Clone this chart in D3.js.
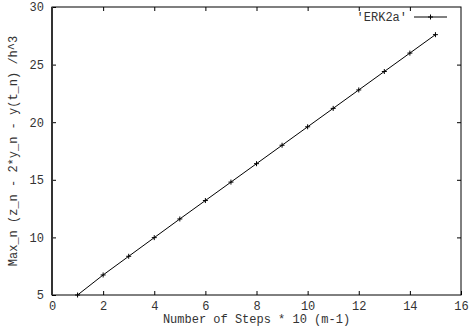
<!DOCTYPE html>
<html>
<head>
<meta charset="utf-8">
<script src="https://cdn.jsdelivr.net/npm/d3@7"></script>
<style>
  body { margin: 0; background: #fff; }
  text { font-family: "Liberation Mono", "DejaVu Sans Mono", monospace; }
</style>
</head>
<body>
<div id="chart"></div>
<script>
// Datos
const steps = [1, 2, 3, 4, 5, 6, 7, 8, 9, 10, 11, 12, 13, 14, 15];
const erk2a = [5.0, 6.74, 8.36, 9.98, 11.6, 13.2, 14.8, 16.4, 18.0, 19.6, 21.2, 22.8, 24.4, 26.0, 27.6];
const xTicks = [0, 2, 4, 6, 8, 10, 12, 14, 16];
const yTicks = [5, 10, 15, 20, 25, 30];
const seriesName = "'ERK2a'";
const xLabel = "Number of Steps * 10 (m-1)";
const yLabel = "Max_n (z_n - 2*y_n - y(t_n) /h^3";

const width = 469, height = 334;
const margin = { top: 7, right: 8, bottom: 39, left: 52 };
const fontSize = 12;
const textColor = '#333';

const svg = d3.select('#chart')
  .append('svg')
  .attr('width', width)
  .attr('height', height);

const x = d3.scaleLinear().domain([0, 16]).range([margin.left, width - margin.right]);
const y = d3.scaleLinear().domain([5, 30]).range([height - margin.bottom, margin.top]);

const tickLen = 4;

// Ejes con marcas hacia dentro (estilo gnuplot)
svg.append('g')
  .attr('transform', `translate(0,${y(5)})`)
  .call(d3.axisBottom(x).tickValues(xTicks).tickSizeInner(-tickLen).tickSizeOuter(0).tickPadding(6.5))
  .call(g => g.select('.domain').remove());

svg.append('g')
  .attr('transform', `translate(0,${y(30)})`)
  .call(d3.axisTop(x).tickValues(xTicks.slice(1, -1)).tickSizeInner(-tickLen).tickSizeOuter(0).tickFormat(''))
  .call(g => g.select('.domain').remove());

svg.append('g')
  .attr('transform', `translate(${x(0)},0)`)
  .call(d3.axisLeft(y).tickValues(yTicks).tickSizeInner(-tickLen).tickSizeOuter(0).tickPadding(8))
  .call(g => g.select('.domain').remove());

svg.append('g')
  .attr('transform', `translate(${x(16)},0)`)
  .call(d3.axisRight(y).tickValues(yTicks.slice(1, -1)).tickSizeInner(-tickLen).tickSizeOuter(0).tickFormat(''))
  .call(g => g.select('.domain').remove());

svg.selectAll('.tick text')
  .attr('font-size', fontSize)
  .attr('fill', textColor);
svg.selectAll('.tick line').attr('stroke', '#000');

// Marco
svg.append('rect')
  .attr('x', x(0))
  .attr('y', y(30))
  .attr('width', x(16) - x(0))
  .attr('height', y(5) - y(30))
  .attr('fill', 'none')
  .attr('stroke', '#000')
  .attr('stroke-width', 1);

svg.append('line')
  .attr('x1', x(0)).attr('x2', x(0))
  .attr('y1', y(30)).attr('y2', y(5))
  .attr('stroke', '#333')
  .attr('stroke-width', 2);

// Serie
const pts = steps.map((s, i) => [s, erk2a[i]]);

svg.append('path')
  .datum(pts)
  .attr('fill', 'none')
  .attr('stroke', '#000')
  .attr('stroke-width', 1)
  .attr('d', d3.line().x(d => x(d[0])).y(d => y(d[1])));

function drawPlus(g, cx, cy) {
  const s = 2.5;
  g.append('path')
    .attr('d', `M${cx - s},${cy}H${cx + s}M${cx},${cy - s}V${cy + s}`)
    .attr('stroke', '#000')
    .attr('stroke-width', 1)
    .attr('fill', 'none');
}
const marks = svg.append('g');
pts.forEach(d => drawPlus(marks, x(d[0]), y(d[1])));

// Leyenda
const legY = 17;
svg.append('text')
  .attr('x', 407)
  .attr('y', 20.5)
  .attr('text-anchor', 'end')
  .attr('font-size', fontSize)
  .attr('fill', textColor)
  .text(seriesName);
svg.append('line')
  .attr('x1', 414).attr('x2', 447)
  .attr('y1', legY).attr('y2', legY)
  .attr('stroke', '#000');
drawPlus(svg, 430.5, legY);

// Títulos de ejes
svg.append('text')
  .attr('x', (x(0) + x(16)) / 2)
  .attr('y', 323)
  .attr('text-anchor', 'middle')
  .attr('font-size', fontSize)
  .attr('fill', textColor)
  .text(xLabel);

svg.append('text')
  .attr('transform', `translate(12.5,${(y(5) + y(30)) / 2}) rotate(-90)`)
  .attr('dy', '0.35em')
  .attr('text-anchor', 'middle')
  .attr('font-size', fontSize)
  .attr('fill', textColor)
  .text(yLabel);
</script>
</body>
</html>
